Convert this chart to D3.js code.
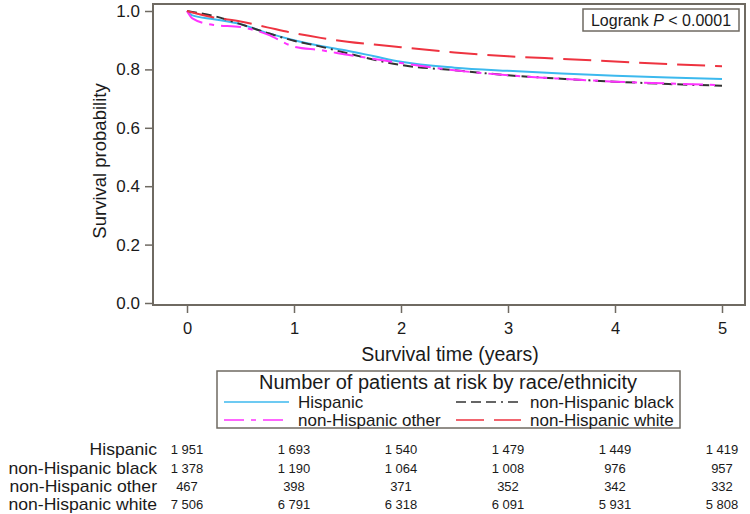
<!DOCTYPE html>
<html>
<head>
<meta charset="utf-8">
<script src="https://cdn.jsdelivr.net/npm/d3@7"></script>
<style>
  body { margin: 0; background: #fff; }
  svg { font-family: "Liberation Sans", Arial, sans-serif; }
  .axis text { fill: #1a1a1a; }
</style>
</head>
<body>
<svg id="km" width="750" height="514"></svg>
<script>
// survival, at these times (years)
var times = [0, 0.05, 0.25, 0.5, 0.75, 1, 1.25, 1.5, 1.75, 2, 2.5, 3, 3.5, 4, 4.5, 5];
var hispanic = [1.0, 0.985, 0.972, 0.955, 0.925, 0.900, 0.880, 0.864, 0.845, 0.826, 0.806, 0.795, 0.786, 0.778, 0.772, 0.767];
var nhBlack  = [1.0, 0.997, 0.983, 0.955, 0.925, 0.898, 0.878, 0.855, 0.833, 0.815, 0.797, 0.780, 0.768, 0.758, 0.750, 0.744];
var nhOther  = [1.0, 0.975, 0.952, 0.945, 0.920, 0.878, 0.866, 0.850, 0.836, 0.822, 0.797, 0.780, 0.768, 0.758, 0.752, 0.746];
var nhWhite  = [1.0, 0.995, 0.978, 0.964, 0.944, 0.924, 0.908, 0.895, 0.885, 0.876, 0.858, 0.845, 0.836, 0.827, 0.818, 0.811];

var groups = ["Hispanic", "non-Hispanic black", "non-Hispanic other", "non-Hispanic white"];
var xTicks = [0, 1, 2, 3, 4, 5];
var yTicks = [0, 0.2, 0.4, 0.6, 0.8, 1.0];

// numbers at risk at each x tick
var riskHispanic = ["1 951", "1 693", "1 540", "1 479", "1 449", "1 419"];
var riskBlack    = ["1 378", "1 190", "1 064", "1 008", "976", "957"];
var riskOther    = ["467", "398", "371", "352", "342", "332"];
var riskWhite    = ["7 506", "6 791", "6 318", "6 091", "5 931", "5 808"];

var svg = d3.select("#km");
var frameCol = "#6f6a62";

var series = [
    {name: groups[0], vals: hispanic, color: "#3cb9ee", dash: null},
    {name: groups[1], vals: nhBlack,  color: "#333333", dash: "10,5,10,5,10,5,2,5"},
    {name: groups[2], vals: nhOther,  color: "#ff33ff", dash: "20,7,5,7"},
    {name: groups[3], vals: nhWhite,  color: "#ee3340", dash: "28,10"}
];

var x = d3.scaleLinear().domain([0, 5]).range([187, 722]);
var y = d3.scaleLinear().domain([0, 1]).range([303, 11]);

// plot frame
svg.append("rect")
    .attr("x", 153).attr("y", 4)
    .attr("width", 592).attr("height", 301)
    .attr("fill", "none")
    .attr("stroke", frameCol)
    .attr("stroke-width", 2);

var yAxis = svg.append("g").attr("class", "axis")
    .attr("transform", "translate(153,0)")
    .call(d3.axisLeft(y).tickValues(yTicks).tickFormat(d3.format(".1f")).tickSize(8).tickPadding(5));
yAxis.select(".domain").remove();
yAxis.selectAll("line").attr("stroke", frameCol).attr("stroke-width", 1.5);
yAxis.selectAll("text").style("font-size", "17px");

var xAxis = svg.append("g").attr("class", "axis")
    .attr("transform", "translate(0,306)")
    .call(d3.axisBottom(x).tickValues(xTicks).tickFormat(d3.format("d")).tickSize(7).tickPadding(9));
xAxis.select(".domain").remove();
xAxis.selectAll("line").attr("stroke", frameCol).attr("stroke-width", 1.5);
xAxis.selectAll("text").style("font-size", "16.5px");

svg.append("text")
    .attr("x", 450).attr("y", 361)
    .attr("text-anchor", "middle")
    .style("font-size", "19.5px")
    .attr("fill", "#1a1a1a")
    .text("Survival time (years)");

svg.append("text")
    .attr("transform", "translate(106,161) rotate(-90)")
    .attr("text-anchor", "middle")
    .style("font-size", "18.5px")
    .attr("fill", "#1a1a1a")
    .text("Survival probability");

// curves
var line = d3.line()
    .x(function (d) { return x(d[0]); })
    .y(function (d) { return y(d[1]); })
    .curve(d3.curveMonotoneX);

series.forEach(function (s) {
    var pts = times.map(function (t, i) { return [t, s.vals[i]]; });
    svg.append("path")
        .attr("d", line(pts))
        .attr("fill", "none")
        .attr("stroke", s.color)
        .attr("stroke-width", 2)
        .attr("stroke-dasharray", s.dash);
});

// logrank box
svg.append("rect")
    .attr("x", 583).attr("y", 9)
    .attr("width", 156).attr("height", 22)
    .attr("fill", "#fff")
    .attr("stroke", frameCol)
    .attr("stroke-width", 1.5);
var lr = svg.append("text")
    .attr("x", 661).attr("y", 26)
    .attr("text-anchor", "middle")
    .style("font-size", "16px")
    .attr("fill", "#1a1a1a");
lr.append("tspan").text("Logrank ");
lr.append("tspan").style("font-style", "italic").text("P");
lr.append("tspan").text(" < 0.0001");

// legend
svg.append("rect")
    .attr("x", 217).attr("y", 371)
    .attr("width", 463).attr("height", 57)
    .attr("fill", "#fff")
    .attr("stroke", frameCol)
    .attr("stroke-width", 1.5);
svg.append("text")
    .attr("x", 448).attr("y", 389)
    .attr("text-anchor", "middle")
    .style("font-size", "20px")
    .attr("fill", "#1a1a1a")
    .text("Number of patients at risk by race/ethnicity");

var legPos = [[224, 408], [456, 408], [224, 426], [456, 426]];
series.forEach(function (s, i) {
    var p = legPos[i];
    svg.append("line")
        .attr("x1", p[0]).attr("x2", p[0] + 65)
        .attr("y1", p[1] - 6).attr("y2", p[1] - 6)
        .attr("stroke", s.color)
        .attr("stroke-width", 1.5)
        .attr("stroke-dasharray", s.dash);
    svg.append("text")
        .attr("x", p[0] + 74).attr("y", p[1])
        .style("font-size", "17px")
        .attr("fill", "#1a1a1a")
        .text(s.name);
});

// risk table
var riskRows = [riskHispanic, riskBlack, riskOther, riskWhite];
var rowY = [455, 473.5, 491.5, 510];
riskRows.forEach(function (row, r) {
    svg.append("text")
        .attr("transform", "translate(157," + rowY[r] + ") scale(1.1,1)")
        .attr("text-anchor", "end")
        .style("font-size", "16px")
        .attr("fill", "#1a1a1a")
        .text(groups[r]);
    row.forEach(function (v, i) {
        svg.append("text")
            .attr("x", x(xTicks[i])).attr("y", rowY[r] - 1)
            .attr("text-anchor", "middle")
            .style("font-size", "13px")
            .attr("fill", "#1a1a1a")
            .text(v);
    });
});
</script>
</body>
</html>
